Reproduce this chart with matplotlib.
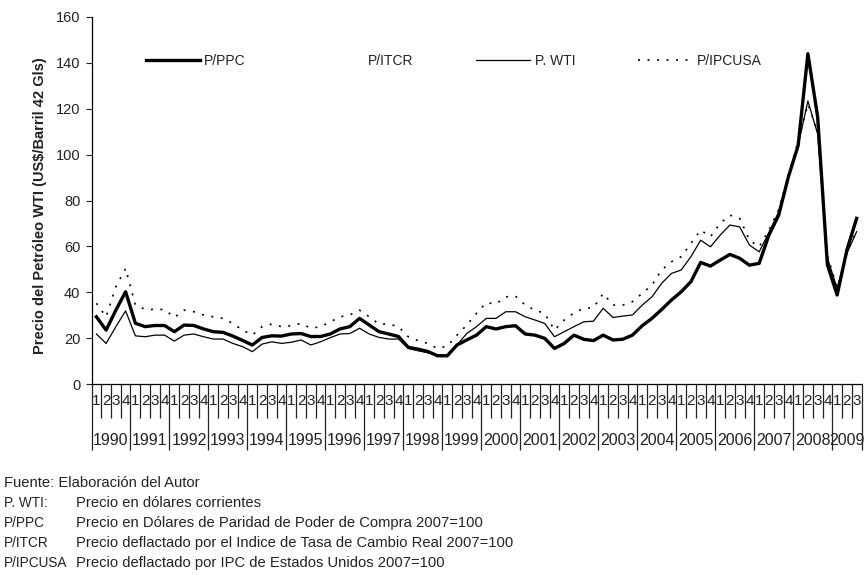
import matplotlib
matplotlib.use("Agg")
import matplotlib.pyplot as plt
from matplotlib.lines import Line2D
from matplotlib.transforms import blended_transform_factory
import numpy as np

plt.rcParams['font.family'] = ['Liberation Sans', 'DejaVu Sans']

years = [str(y) for y in range(1990, 2010)]
quarter_labels = ['1', '2', '3', '4']
n_quarters = 79  # 1990Q1 .. 2009Q3

p_ppc = [29.3, 23.5, 32.2, 40.2, 26.5, 25.0, 25.5, 25.5, 22.8, 25.7,
         25.5, 24.0, 22.8, 22.5, 20.9, 19.0, 17.0, 20.3, 21.0, 20.9,
         21.8, 22.0, 20.7, 20.7, 21.8, 24.0, 25.0, 28.6, 25.7, 22.8,
         21.8, 20.7, 16.0, 15.2, 14.2, 12.3, 12.3, 17.0, 19.2, 21.3,
         25.0, 24.0, 25.0, 25.4, 21.8, 21.3, 19.9, 15.5, 17.7, 21.3,
         19.5, 18.9, 21.3, 19.2, 19.5, 21.3, 25.4, 28.6, 32.5, 36.6,
         40.2, 44.6, 53.0, 51.4, 54.0, 56.5, 54.8, 51.8, 52.6, 64.9,
         73.6, 90.3, 104.0, 144.0, 116.5, 52.0, 38.8, 58.4, 72.2]

p_wti = [21.8, 17.7, 25.0, 31.9, 21.0, 20.6, 21.3, 21.3, 18.7, 21.3,
         21.8, 20.6, 19.6, 19.6, 17.7, 16.3, 14.1, 17.4, 18.4, 17.7,
         18.2, 19.2, 17.0, 18.4, 20.2, 21.8, 22.0, 24.3, 21.8, 20.3,
         19.6, 19.6, 15.5, 14.5, 13.6, 12.6, 12.6, 17.0, 22.0, 25.0,
         28.6, 28.6, 31.5, 31.5, 29.3, 27.9, 26.4, 20.6, 22.8, 25.0,
         27.1, 27.4, 33.0, 29.0, 29.6, 30.1, 34.4, 38.0, 43.9, 48.2,
         49.7, 55.5, 62.7, 59.8, 64.9, 69.3, 68.5, 60.6, 57.6, 66.0,
         75.0, 90.0, 104.0, 123.4, 109.0, 55.0, 41.7, 57.0, 66.4]

p_ipcusa = [35.2, 29.3, 42.4, 50.4, 34.4, 32.5, 32.5, 32.5, 29.0, 32.2,
            31.5, 30.1, 29.3, 28.6, 26.4, 23.5, 21.3, 25.0, 26.1, 25.0,
            25.4, 26.4, 24.3, 25.0, 27.1, 29.3, 30.1, 32.2, 29.3, 26.1,
            26.1, 25.0, 20.6, 18.9, 17.7, 15.5, 16.5, 21.3, 25.7, 30.8,
            35.4, 34.9, 38.0, 38.3, 34.4, 32.2, 30.8, 23.5, 27.9, 31.0,
            33.0, 33.3, 39.5, 34.4, 34.4, 35.9, 39.5, 43.1, 49.7, 53.3,
            55.5, 61.3, 67.1, 64.2, 70.0, 73.6, 72.2, 62.7, 59.8, 67.0,
            76.0, 91.0, 106.0, 122.0, 110.0, 56.0, 42.0, 57.0, 67.0]

legend_labels = ['P/PPC', 'P/ITCR', 'P. WTI', 'P/IPCUSA']
y_label = 'Precio del Petróleo WTI (US$/Barril 42 Gls)'

notes = [('Fuente: Elaboración del Autor', ''),
         ('P. WTI:', 'Precio en dólares corrientes'),
         ('P/PPC', 'Precio en Dólares de Paridad de Poder de Compra 2007=100'),
         ('P/ITCR', 'Precio deflactado por el Indice de Tasa de Cambio Real 2007=100'),
         ('P/IPCUSA', 'Precio deflactado por IPC de Estados Unidos 2007=100')]

W, H = 864, 575
fig = plt.figure(figsize=(W / 100, H / 100), dpi=100)
ax = fig.add_axes([91.5 / W, 1 - 384 / H, 770 / W, 367 / H])

x = np.arange(n_quarters)
ax.plot(x, p_ipcusa, color='black', lw=1.2, linestyle=(0, (1.2, 4.5)))
ax.plot(x, p_wti, color='black', lw=0.9)
ax.plot(x, p_ppc, color='black', lw=2.4)

ax.set_xlim(-0.5, n_quarters - 0.5)
ax.set_ylim(0, 160)
ax.set_yticks(np.arange(0, 161, 20))
ax.tick_params(axis='y', direction='out', length=4, width=0.8, pad=4,
               labelsize=10.5, colors='#222222')

for s in ['top', 'right']:
    ax.spines[s].set_visible(False)
for s in ['left', 'bottom']:
    ax.spines[s].set_linewidth(0.9)

# x ticks: quarter boundaries (minor) and year boundaries (major)
q_bounds = np.arange(-0.5, n_quarters, 1.0)
y_bounds = np.arange(-0.5, n_quarters + 3, 4.0)
y_bounds = np.append(y_bounds[y_bounds <= n_quarters - 0.5], n_quarters - 0.5)
ax.set_xticks(y_bounds)
ax.set_xticks(q_bounds, minor=True)
ax.set_xticklabels([])
ax.tick_params(axis='x', which='major', direction='out', length=47.5, width=0.9, color='#222222')
ax.tick_params(axis='x', which='minor', direction='out', length=24.5, width=0.9, color='#222222')

trans = blended_transform_factory(ax.transData, ax.transAxes)
for i in range(n_quarters):
    ax.text(i, -0.047, quarter_labels[i % 4], transform=trans, ha='center', va='center',
            fontsize=11, color='#222222')
for k, yr in enumerate(years):
    start = k * 4 - 0.5
    end = min(start + 4, n_quarters - 0.5)
    ax.text((start + end) / 2, -0.153, yr, transform=trans, ha='center', va='center',
            fontsize=11.5, color='#222222')

ax.set_ylabel(y_label, fontsize=10.5, fontweight='bold', color='#222222')
ax.yaxis.set_label_coords(-0.058, 0.485)

handles = [Line2D([], [], color='black', lw=2.4),
           Line2D([], [], color='none', lw=0.9),
           Line2D([], [], color='black', lw=0.9),
           Line2D([], [], color='black', lw=1.2, linestyle=(0, (1.2, 4.5)))]
ax.legend(handles, legend_labels, loc='center left', bbox_to_anchor=((146 - 91.5) / 770, (384 - 61) / 367),
          ncol=4, frameon=False, handlelength=3.9, handletextpad=0.3, columnspacing=4.55,
          fontsize=10, borderpad=0, borderaxespad=0, labelcolor='#222222')

for j, (a, b) in enumerate(notes):
    yy = 1 - (483 + 20 * j) / H
    if b:
        fig.text(4 / W, yy, a, ha='left', va='center', fontsize=9.8, color='#222222')
        fig.text(76 / W, yy, b, ha='left', va='center', fontsize=10.6, color='#222222')
    else:
        fig.text(4 / W, yy, a, ha='left', va='center', fontsize=10.6, color='#222222')

fig.savefig('out.png', dpi=100)
